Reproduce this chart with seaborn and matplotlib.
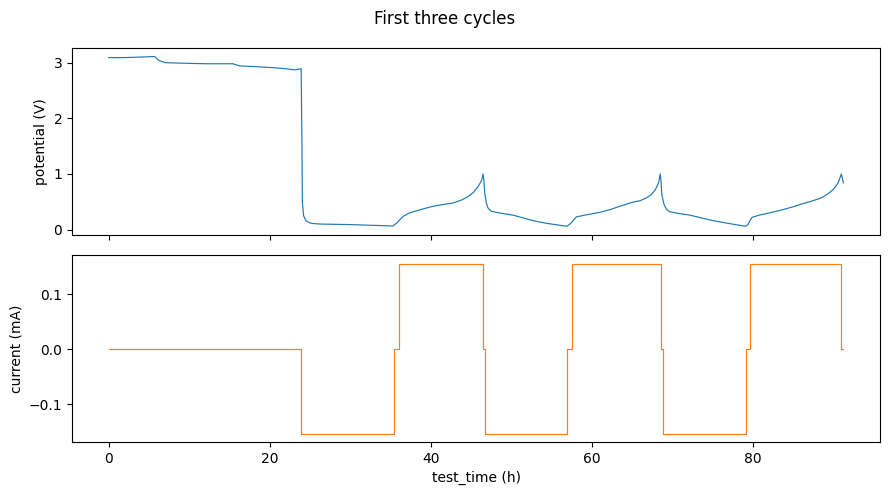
import numpy as np
import pandas as pd
import seaborn as sns
import matplotlib.pyplot as plt

# potential trace (hours, volts)
pot_time = [0.0, 2.0, 4.0, 5.7, 6.2, 7.0, 9.0, 12.0, 15.4, 16.3, 18.0, 20.4, 22.0, 23.1, 23.9,
            24.0, 24.05, 24.2, 24.5, 25.0, 25.3, 26.2, 30.0, 35.3,
            35.5, 35.8, 36.1, 36.6, 37.2, 37.8, 39.0, 40.3, 41.5, 42.8, 43.8, 44.6, 45.3, 45.9, 46.3, 46.5,
            46.6, 46.7, 46.9, 47.1, 47.5, 48.5, 50.2, 51.5, 52.7, 54.5, 56.9,
            57.3, 57.6, 58.1, 59.5, 61.0, 62.3, 63.5, 65.0, 66.0, 66.8, 67.4, 67.9, 68.3, 68.5,
            68.6, 68.7, 69.0, 69.3, 69.7, 70.8, 72.2, 73.6, 75.1, 77.0, 79.1,
            79.4, 79.6, 79.9, 80.8, 82.1, 83.5, 85.0, 86.3, 87.5, 88.5, 89.3, 90.0, 90.6, 91.0, 91.25]
pot_volt = [3.09, 3.09, 3.10, 3.11, 3.04, 3.00, 2.99, 2.98, 2.98, 2.94, 2.93, 2.91, 2.89, 2.87, 2.89,
            1.50, 0.50, 0.25, 0.16, 0.12, 0.11, 0.10, 0.09, 0.065,
            0.09, 0.12, 0.17, 0.24, 0.29, 0.32, 0.37, 0.42, 0.45, 0.48, 0.53, 0.59, 0.67, 0.78, 0.88, 1.00,
            0.88, 0.66, 0.48, 0.39, 0.33, 0.30, 0.26, 0.21, 0.16, 0.11, 0.06,
            0.10, 0.15, 0.23, 0.27, 0.31, 0.36, 0.42, 0.49, 0.52, 0.57, 0.63, 0.72, 0.84, 1.00,
            0.87, 0.62, 0.44, 0.36, 0.32, 0.29, 0.26, 0.21, 0.16, 0.11, 0.06,
            0.09, 0.15, 0.22, 0.26, 0.30, 0.35, 0.41, 0.47, 0.52, 0.57, 0.64, 0.72, 0.84, 1.00, 0.84]

# current steps (start time of each step, current in mA)
cur_time = [0.0, 23.9, 35.4, 36.0, 46.5, 46.75, 56.9, 57.5, 68.6, 68.8, 79.2, 79.7, 91.0, 91.25]
cur_ma = [0.0, -0.153, 0.0, 0.155, 0.0, -0.153, 0.0, 0.155, 0.0, -0.153, 0.0, 0.155, 0.0, 0.0]

pot = pd.DataFrame({"test_time (h)": pot_time, "potential (V)": pot_volt})
cur = pd.DataFrame({"test_time (h)": cur_time, "current (mA)": cur_ma})

fig, (ax1, ax2) = plt.subplots(2, 1, figsize=(8.89, 4.95), dpi=100, sharex=True)

sns.lineplot(data=pot, x="test_time (h)", y="potential (V)", ax=ax1,
             color="C0", lw=0.85, estimator=None, sort=False)
sns.lineplot(data=cur, x="test_time (h)", y="current (mA)", ax=ax2,
             color="C1", lw=0.85, estimator=None, sort=False, drawstyle="steps-post")

ax1.set_xlabel("")
ax2.set_xticks([0, 20, 40, 60, 80])
fig.suptitle("First three cycles")

fig.subplots_adjust(left=0.081, right=0.99, top=0.903, bottom=0.107, hspace=0.11)
fig.savefig("out.png", dpi=100)
